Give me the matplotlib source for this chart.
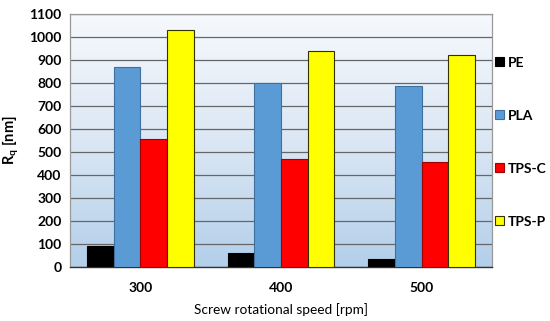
import matplotlib
matplotlib.use("Agg")
import matplotlib.pyplot as plt
import numpy as np
from matplotlib.colors import LinearSegmentedColormap

categories = ["300", "400", "500"]
series_names = ["PE", "PLA", "TPS-C", "TPS-P"]
pe = [91, 62, 35]
pla = [868, 798, 787]
tps_c = [556, 469, 456]
tps_p = [1030, 939, 922]
values = [pe, pla, tps_c, tps_p]
colors = ["#000000", "#5b9bd5", "#ff0000", "#ffff00"]
edges = ["#000000", "#3f6f9f", "#a00000", "#333300"]
yticks = list(range(0, 1101, 100))

plt.rcParams['font.family'] = ['Lato', 'DejaVu Sans']

fig = plt.figure(figsize=(5.5, 3.21), dpi=100)
ax = fig.add_axes([70/550, 54/321, 422/550, 253/321])

# gradient background
cmap = LinearSegmentedColormap.from_list("bg", ["#b3cfea", "#dbe7f4", "#f6f9fd"])
grad = np.linspace(0, 1, 256).reshape(-1, 1)
ax.imshow(grad, aspect='auto', cmap=cmap, origin='lower',
          extent=[0, 1, 0, 1], transform=ax.transAxes, zorder=0)

x = np.arange(len(categories))
w = 0.19
for i, (vals, c, e, name) in enumerate(zip(values, colors, edges, series_names)):
    ax.bar(x + (i - 1.5) * w, vals, w, color=c, edgecolor=e, linewidth=0.8,
           label=name, zorder=3)

ax.set_xlim(-0.5, 2.5)
ax.set_ylim(0, 1100)
ax.set_yticks(yticks)
ax.set_yticklabels([str(t) for t in yticks], fontsize=10, fontweight='bold')
ax.set_xticks(x)
ax.set_xticklabels(categories, fontsize=10, fontweight='bold')
ax.tick_params(axis='both', length=0, pad=6)
ax.tick_params(axis='x', pad=11)
ax.yaxis.grid(True, color="#666666", linewidth=0.9, zorder=1)
ax.set_axisbelow(True)
for s in ['top', 'right', 'left']:
    ax.spines[s].set_color("#999999")
    ax.spines[s].set_linewidth(0.9)
ax.spines['bottom'].set_color("#333333")
ax.spines['bottom'].set_linewidth(1.0)

ax.set_ylabel(r"R$_\mathregular{q}$ [nm]", fontsize=10.5, fontweight='bold', labelpad=6)
ax.set_xlabel("Screw rotational speed [rpm]", fontsize=9.8, labelpad=6)

leg = ax.legend(loc='upper left', bbox_to_anchor=(0.995, 0.853), frameon=False,
                prop={'size': 10, 'weight': 'bold'}, handlelength=0.6,
                handleheight=0.6, handletextpad=0.3, labelspacing=2.95,
                borderaxespad=0.0)

fig.savefig("out.png", dpi=100)
